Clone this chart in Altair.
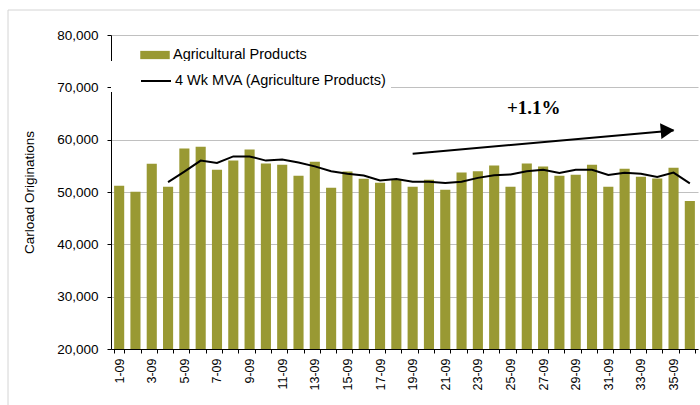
import altair as alt
import pandas as pd

# ---- data ----
weeks = ["1-09", "2-09", "3-09", "4-09", "5-09", "6-09", "7-09", "8-09", "9-09",
         "10-09", "11-09", "12-09", "13-09", "14-09", "15-09", "16-09", "17-09", "18-09",
         "19-09", "20-09", "21-09", "22-09", "23-09", "24-09", "25-09", "26-09", "27-09",
         "28-09", "29-09", "30-09", "31-09", "32-09", "33-09", "34-09", "35-09", "36-09"]
ag_products = [51200, 50050, 55400, 51000, 58300, 58650, 54250, 56000, 58100,
               55450, 55200, 53100, 55800, 50800, 53900, 52550, 51750, 52450,
               51000, 52350, 50450, 53750, 53950, 55050, 51000, 55450, 54850,
               53100, 53300, 55200, 51000, 54450, 52900, 52600, 54650, 48300]
mva_weeks = weeks[3:]
mva_values = [51900, 53900, 56000, 55550, 56800, 56800, 56000, 56200, 55650,
              54900, 53950, 53500, 53150, 52200, 52500, 51950, 51950, 51700,
              51950, 52700, 53200, 53350, 53950, 54250, 53650, 54250, 54250,
              53250, 53700, 53500, 52850, 53700, 51650]

BAR_NAME = "Agricultural Products"
LINE_NAME = "4 Wk MVA (Agriculture Products)"

arrow_weeks = ["19-09", "35-09"]
arrow_values = [57300, 61750]
note_week = "26-09"
note_value = 66000
note_text = "+1.1%"
y_ticks = [20000, 30000, 40000, 50000, 60000, 70000, 80000]

bars_df = pd.DataFrame({"week": weeks, "value": ag_products, "series": BAR_NAME})
line_df = pd.DataFrame({"week": mva_weeks, "value": mva_values, "series": LINE_NAME})
arrow_df = pd.DataFrame({"w1": [arrow_weeks[0]], "w2": [arrow_weeks[1]],
                         "v1": [arrow_values[0]], "v2": [arrow_values[1]]})
head_df = pd.DataFrame({"week": [arrow_weeks[1]], "value": [arrow_values[1]]})
note_df = pd.DataFrame({"week": [note_week], "value": [note_value], "label": [note_text]})
frame_df = pd.DataFrame({"k": [0]})

FONT = "Liberation Sans"
OLIVE = "#999933"

x_scale = alt.Scale(domain=weeks, paddingInner=0.38, paddingOuter=0.19)
y_scale = alt.Scale(domain=[20000, 80000], nice=False, zero=False)

x_axis = alt.Axis(
    title=None, labelAngle=270, labelAlign="right", labelBaseline="middle",
    labelFont=FONT, labelFontSize=12.5, labelColor="black", labelPadding=5,
    labelOverlap=False,
    labelExpr="parseInt(split(datum.value, '-')[0]) % 2 == 1 ? datum.label : ''",
    tickBand="extent", tickSize=4, tickColor="black", domainColor="black", grid=False,
)
y_axis = alt.Axis(
    title="Carload Originations", values=y_ticks,
    labelExpr="format(datum.value, ',.0f')",
    labelFont=FONT, labelFontSize=13.5, labelColor="black", labelPadding=9,
    tickSize=4, tickColor="black", domainColor="black",
    grid=True, gridColor="#c0c0c0", gridWidth=1,
    titleFont=FONT, titleFontSize=13.5, titleFontWeight="normal", titleColor="black",
    titleAngle=270, titleX=-82, titleY=157, titleAlign="center", titleBaseline="middle",
)

bars = alt.Chart(bars_df).mark_bar(clip=True).encode(
    x=alt.X("week:N", scale=x_scale, axis=x_axis),
    y=alt.Y("value:Q", scale=y_scale, axis=y_axis),
    fill=alt.Fill("series:N", scale=alt.Scale(domain=[BAR_NAME], range=[OLIVE]),
                  legend=alt.Legend(title=None, orient="none", legendX=0, legendY=5,
                                    symbolType="M-1,-0.28H1V0.28H-1Z", symbolSize=870,
                                    symbolStrokeWidth=0, symbolOpacity=1,
                                    labelFont=FONT, labelFontSize=14.5, labelColor="black",
                                    labelLimit=300,
                                    labelOffset=3, symbolOffset=29, padding=0)),
)

line = alt.Chart(line_df).mark_line(strokeWidth=2).encode(
    x=alt.X("week:N"),
    y=alt.Y("value:Q"),
    stroke=alt.Stroke("series:N", scale=alt.Scale(domain=[LINE_NAME], range=["black"]),
                      legend=alt.Legend(title=None, orient="none", legendX=0, legendY=26,
                                        symbolType="stroke", symbolSize=900,
                                        symbolStrokeWidth=2, symbolStrokeColor="black",
                                        labelFont=FONT, labelFontSize=14.5, labelColor="black",
                                        labelLimit=300,
                                        labelOffset=3, symbolOffset=25, padding=4,
                                        fillColor="white")),
)

arrow = alt.Chart(arrow_df).mark_rule(strokeWidth=2, color="black").encode(
    x="w1:N", x2="w2:N", y="v1:Q", y2="v2:Q")

head = alt.Chart(head_df).mark_point(shape="triangle-right", filled=True, size=250,
                                     color="black", opacity=1, angle=355,
                                     xOffset=-6).encode(x="week:N", y="value:Q")

note = alt.Chart(note_df).mark_text(font="Liberation Serif", fontWeight="bold",
                                    fontSize=19, color="black", dx=7,
                                    baseline="middle").encode(
    x="week:N", y="value:Q", text="label:N")

frame_left = alt.Chart(frame_df).mark_rule(color="#d4d4d4", strokeWidth=1).encode(
    x=alt.value(-103), y=alt.value(-25), y2=alt.value(380))
frame_top = alt.Chart(frame_df).mark_rule(color="#d4d4d4", strokeWidth=1).encode(
    x=alt.value(-103), x2=alt.value(600), y=alt.value(-25))

chart = alt.layer(bars, line, arrow, head, note, frame_left, frame_top).properties(
    width=587, height=314,
    autosize=alt.AutoSizeParams(type="none"),
    padding={"left": 111, "top": 35, "right": 2, "bottom": 56},
).configure_view(stroke=None)

chart.save("out.html", embed_options={"renderer": "svg", "actions": False})
